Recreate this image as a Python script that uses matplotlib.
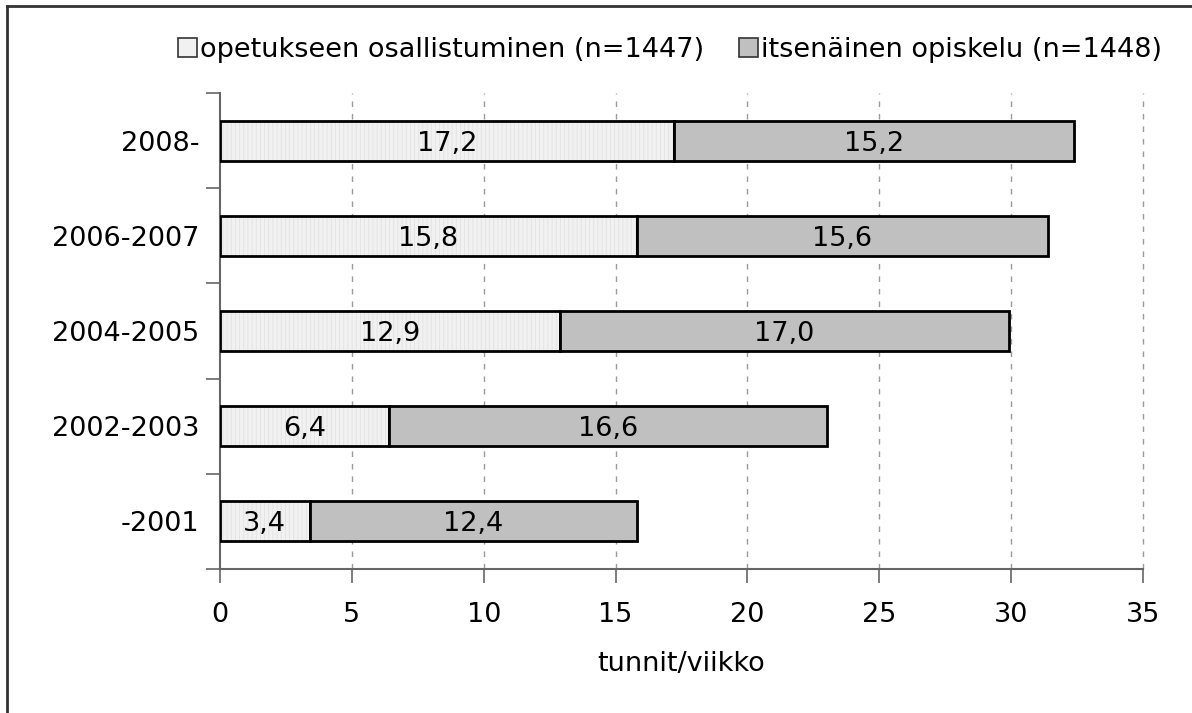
import matplotlib
matplotlib.use("Agg")
import matplotlib.pyplot as plt
from matplotlib.patches import Patch
from matplotlib.lines import Line2D
import numpy as np

categories = ["2008-", "2006-2007", "2004-2005", "2002-2003", "-2001"]
opetus = [17.2, 15.8, 12.9, 6.4, 3.4]
itsenainen = [15.2, 15.6, 17.0, 16.6, 12.4]
series_names = ["opetukseen osallistuminen (n=1447)", "itsenäinen opiskelu (n=1448)"]
xticks = [0, 5, 10, 15, 20, 25, 30, 35]
xlabel = "tunnit/viikko"

FS = 19.5
plt.rcParams['font.family'] = ['DejaVu Sans']
plt.rcParams['hatch.linewidth'] = 0.6

fig = plt.figure(figsize=(11.92, 7.13), dpi=100)
ax = fig.add_axes([220/1192, 1-569/713, (1143-220)/1192, (569-93)/713])

y = np.arange(len(categories))[::-1]
h = 0.42
c1 = "#f1f1f1"
c2 = "#c0c0c0"

# first series: faint vertical hatch fill then black outline
ax.barh(y, opetus, height=h, color=c1, edgecolor="#e2e2e2", hatch="||||", linewidth=0, zorder=2)
ax.barh(y, opetus, height=h, fill=False, edgecolor="black", linewidth=2, zorder=3)
ax.barh(y, itsenainen, left=opetus, height=h, color=c2, edgecolor="black", linewidth=2, zorder=3)

for yi, a, b in zip(y, opetus, itsenainen):
    ax.text(a/2, yi, f"{a:.1f}".replace(".", ","), ha="center", va="center_baseline", fontsize=FS, zorder=4)
    ax.text(a + b/2, yi, f"{b:.1f}".replace(".", ","), ha="center", va="center_baseline", fontsize=FS, zorder=4)

ax.set_xlim(0, 35)
ax.set_ylim(-0.5, len(categories) - 0.5)
ax.set_xticks(xticks)
ax.set_xticklabels([str(t) for t in xticks], fontsize=FS)
ax.set_yticks(y)
ax.set_yticklabels(categories, fontsize=FS)
ax.tick_params(axis="y", which="major", length=0, pad=15)
ax.set_yticks(np.arange(-0.5, len(categories), 1.0), minor=True)
ax.tick_params(axis="y", which="minor", length=10, width=1.2, color="#666666", direction="out")
ax.tick_params(axis="x", which="major", length=10, width=1.2, color="#666666", direction="out", pad=14)

for t in xticks[1:]:
    ax.axvline(t, color="#9a9a9a", linestyle=(0, (4, 5)), linewidth=1, zorder=1, clip_on=False)

for s in ["top", "right"]:
    ax.spines[s].set_visible(False)
for s in ["left", "bottom"]:
    ax.spines[s].set_color("#666666")
    ax.spines[s].set_linewidth(1.5)

ax.set_xlabel(xlabel, fontsize=FS, labelpad=16)

handles = [Patch(facecolor=c1, edgecolor="#333333", linewidth=1.2),
           Patch(facecolor=c2, edgecolor="#333333", linewidth=1.2)]
fig.legend(handles, series_names, loc="center", bbox_to_anchor=(670/1192, 1-50/713),
           ncol=2, frameon=False, fontsize=FS, handlelength=0.7, handleheight=0.7,
           handletextpad=0.12, columnspacing=1.3)

# figure border (top and left)
fig.add_artist(Line2D([7/1192, 7/1192], [0, 1-6/713], transform=fig.transFigure, color="#333333", linewidth=2))
fig.add_artist(Line2D([7/1192, 1], [1-6/713, 1-6/713], transform=fig.transFigure, color="#333333", linewidth=2))

fig.savefig("out.png", dpi=100)
